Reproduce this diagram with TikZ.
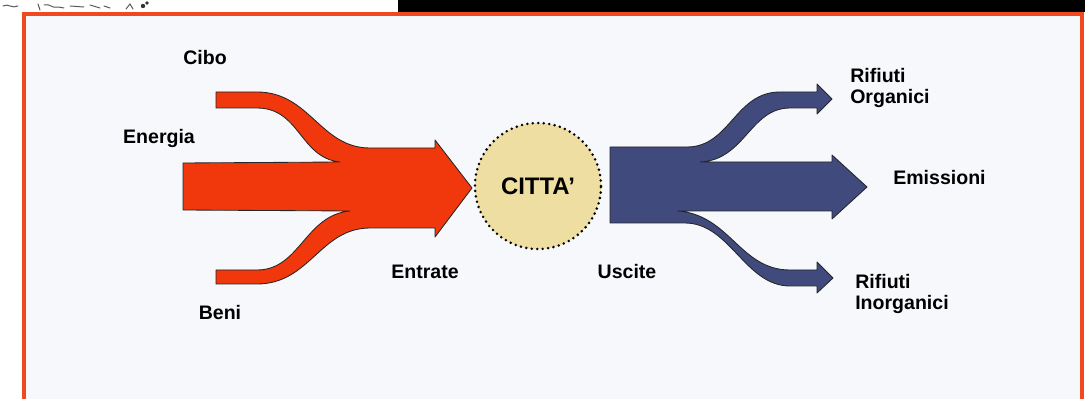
\documentclass[tikz,border=0pt]{standalone}
\usepackage{fontspec}
\setmainfont{Liberation Sans}
\definecolor{inred}{RGB}{240,56,12}
\definecolor{outblue}{RGB}{64,74,124}
\definecolor{cittafill}{RGB}{238,222,162}
\definecolor{framered}{RGB}{240,72,32}
\definecolor{paper}{RGB}{246,248,251}
\begin{document}
\begin{tikzpicture}[x=0.025cm,y=-0.025cm,
  lbl/.style={font=\fontsize{13.9}{15.3}\selectfont\bfseries, inner sep=0pt},
  flow/.style={draw=black!85, line width=0.6pt, line join=round},
  scribble/.style={draw=black!65, line width=0.7pt, line cap=round}]
\useasboundingbox (0,0) rectangle (1085,399);
\fill[white] (0,0) rectangle (1085,399);
\fill[black] (398,0) rectangle (1085,12);
\fill[paper] (24,14) rectangle (1082,399);
\draw[framered, line width=2.2pt] (24,402) -- (24,14) -- (1082,14) -- (1082,402);
% faint handwriting marks at top left
\draw[scribble] (3,6) .. controls (8,3) and (12,9) .. (18,6);
\draw[scribble] (38,4) -- (40,10) (44,5) .. controls (50,3) and (52,9) .. (58,7) -- (64,8);
\draw[scribble] (70,6) -- (84,7) (90,5) -- (100,8) (104,6) -- (110,8);
\draw[scribble] (126,9) -- (130,4) -- (133,9);
\fill[black!80] (143,6) circle (2.2);
\fill[black!80] (147,3) circle (1.8);
% inflows
\filldraw[flow, fill=inred] (183,163) -- (340,162)
  .. controls (300,158) and (300,108) .. (257,108) -- (216,108) -- (216,92) -- (257,92)
  .. controls (310,92) and (320,148) .. (370,148) -- (435,148) -- (435,140) -- (472,188)
  -- (435,237) -- (435,228) -- (370,228)
  .. controls (320,228) and (310,284) .. (257,284) -- (216,284) -- (216,270) -- (257,270)
  .. controls (300,270) and (305,215) .. (350,211) -- (183,210) -- cycle;
% outflows
\filldraw[flow, fill=outblue] (610,147) -- (687,147)
  .. controls (730,147) and (735,92) .. (780,92) -- (817,92) -- (817,84) -- (832,99)
  -- (817,114) -- (817,108) -- (790,108)
  .. controls (750,108) and (745,160) .. (700,162) -- (832,162) -- (832,155) -- (867,187)
  -- (832,219) -- (832,211) -- (678,211)
  .. controls (730,215) and (740,270) .. (790,270) -- (817,270) -- (817,262) -- (833,278)
  -- (817,293) -- (817,286) -- (790,286)
  .. controls (745,286) and (730,223) .. (685,223) -- (610,223) -- cycle;
% city
\node (citta) [circle, fill=cittafill, draw=black, line width=2pt, dash pattern=on 0pt off 3.9pt,
  line cap=round, minimum size=3.15cm, inner sep=0pt, font=\fontsize{17}{20}\selectfont\bfseries]
  at (538,186) {CITTA’};
% labels
\node[lbl] (cibo) at (205,58) {Cibo};
\node[lbl] (energia) at (159,138) {Energia};
\node[lbl] (beni) at (220,313) {Beni};
\node[lbl] (entrate) at (425,272) {Entrate};
\node[lbl] (uscite) at (627,272) {Uscite};
\node[lbl, anchor=west, align=left] (rorg) at (850,88) {Rifiuti\\Organici};
\node[lbl, anchor=west] (emis) at (893,178) {Emissioni};
\node[lbl, anchor=west, align=left] (rinorg) at (855,294) {Rifiuti\\Inorganici};
\end{tikzpicture}
\end{document}
